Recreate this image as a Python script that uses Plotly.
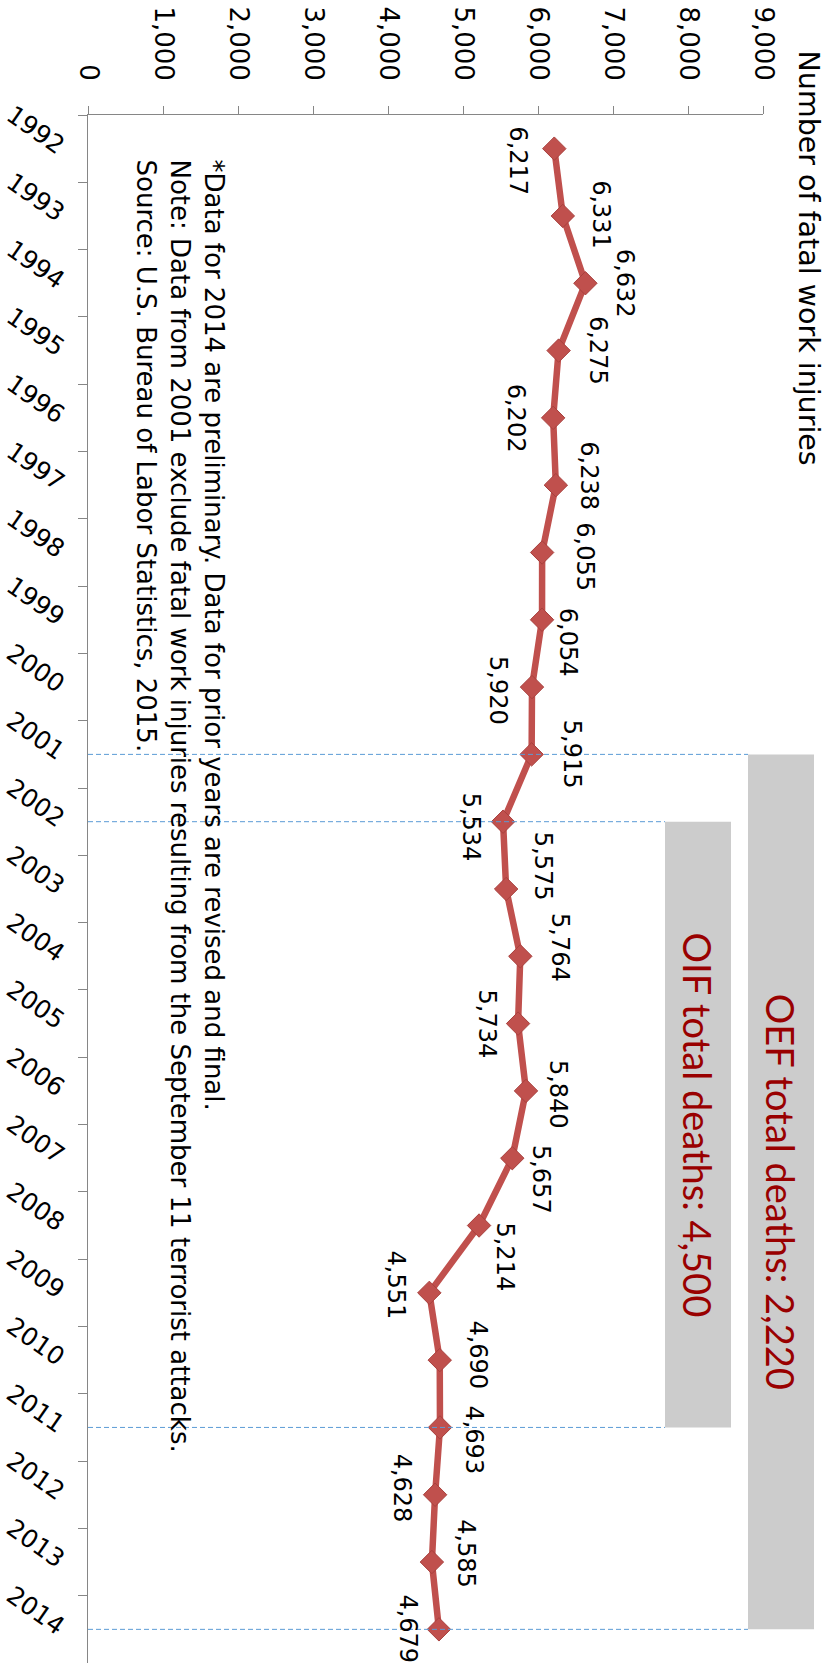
import plotly.graph_objects as go

# Annual fatal work injuries in the US, 1992-2014
years = [str(y) for y in range(1992, 2015)]
fatal_injuries = [6217, 6331, 6632, 6275, 6202, 6238, 6055, 6054, 5920, 5915,
                  5534, 5575, 5764, 5734, 5840, 5657, 5214, 4551, 4690, 4693,
                  4628, 4585, 4679]

# Value axis ticks
value_ticks = list(range(0, 9001, 1000))

# War periods shown as shaded boxes: (label, first year, last year)
oef_period = ("OEF total deaths: 2,220", "2001", "2014")
oif_period = ("OIF total deaths: 4,500", "2002", "2011")

footnote_lines = [
    "*Data for 2014 are preliminary. Data for prior years are revised and final.",
    "Note: Data from 2001 exclude fatal work injuries resulting from the September 11 terrorist attacks.",
    "Source: U.S. Bureau of Labor Statistics, 2015.",
]

# Pixel nudges of each value label relative to its marker (dx right, dy down)
label_offsets = [(-36, 12), (38, -1), (39, 0), (40, 0), (-37, 0), (33, -9),
                 (42, 4), (26, 22), (-34, 3), (40, 0), (-32, 5), (37, -23),
                 (39, -9), (-31, 0), (32, 3), (28, 21), (26, 31), (-33, -8),
                 (38, -5), (34, 13), (-33, -7), (34, -8), (-31, 0)]

W, H = 830, 1665
M_L, M_R, M_T, M_B = 88, 67, 115, 2
plot_w = W - M_L - M_R
plot_h = H - M_T - M_B

LINE_RED = "#C0504D"
FONT = "DejaVu Sans"


def px_to_paper_x(px):
    return (px - M_L) / plot_w


def px_to_paper_y(py):
    return 1 - (py - M_T) / plot_h


fig = go.Figure()
fig.add_trace(go.Scatter(
    x=fatal_injuries, y=years, mode="lines+markers",
    line=dict(color=LINE_RED, width=6.5),
    marker=dict(symbol="diamond", size=18, color=LINE_RED,
                line=dict(color="#A8403D", width=1)),
    hoverinfo="skip", showlegend=False,
))

annotations = []
for idx, (val, (dx, dy)) in enumerate(zip(fatal_injuries, label_offsets)):
    annotations.append(dict(
        x=val, y=idx, xref="x", yref="y", text=f"{val:,}", textangle=90,
        showarrow=False, xanchor="center", yanchor="middle",
        xshift=dx, yshift=-dy,
        font=dict(family=FONT, size=24, color="#000000"),
    ))

shapes = []
boxes = [(oef_period, 748, 814), (oif_period, 665, 731)]
for (label, y0, y1), bx0, bx1 in boxes:
    i0, i1 = years.index(y0), years.index(y1)
    shapes.append(dict(type="rect", xref="paper", yref="y",
                       x0=px_to_paper_x(bx0), x1=px_to_paper_x(bx1),
                       y0=i0, y1=i1, fillcolor="#CCCCCC",
                       line=dict(width=0), layer="below"))
    for idx in (i0, i1):
        shapes.append(dict(type="line", xref="paper", yref="y",
                           x0=0, x1=px_to_paper_x(bx0), y0=idx, y1=idx,
                           line=dict(color="#5B9BD5", width=1, dash="5px,3px")))
    annotations.append(dict(
        x=px_to_paper_x((bx0 + bx1) / 2), y=(i0 + i1) / 2,
        xref="paper", yref="y", text=label, textangle=90, showarrow=False,
        xanchor="center", yanchor="middle",
        font=dict(family="Lato", size=38, color="#990000"),
    ))

# Axis title
annotations.append(dict(
    x=px_to_paper_x(808), y=px_to_paper_y(48),
    xref="paper", yref="paper", text="Number of fatal work injuries",
    textangle=90, showarrow=False, xanchor="center", yanchor="top",
    font=dict(family=FONT, size=28.5, color="#000000"),
))

# Footnote block
annotations.append(dict(
    x=px_to_paper_x(180), y=px_to_paper_y(157),
    xref="paper", yref="paper", text="<br>".join(footnote_lines),
    textangle=90, showarrow=False, xanchor="center", yanchor="top",
    align="left", font=dict(family=FONT, size=26, color="#000000"),
))

fig.update_layout(
    width=W, height=H, margin=dict(l=M_L, r=M_R, t=M_T, b=M_B),
    paper_bgcolor="white", plot_bgcolor="white",
    shapes=shapes, annotations=annotations,
    xaxis=dict(range=[0, 9000], side="top", tickvals=value_ticks,
               tickformat=",", tickangle=90, ticks="outside", ticklen=8,
               tickcolor="#868686", showline=True, linecolor="#868686",
               showgrid=False, zeroline=False, ticklabelstandoff=16,
               tickfont=dict(family=FONT, size=26, color="#000000")),
    yaxis=dict(type="category", categoryorder="array", categoryarray=years,
               range=[len(years) - 0.5, -0.5], tickson="boundaries",
               ticks="outside", ticklen=9, tickcolor="#868686",
               showline=True, linecolor="#868686", showgrid=False,
               zeroline=False, tickangle=35, ticklabelstandoff=18,
               tickfont=dict(family=FONT, size=25, color="#000000")),
)

fig.write_html("out.html")
